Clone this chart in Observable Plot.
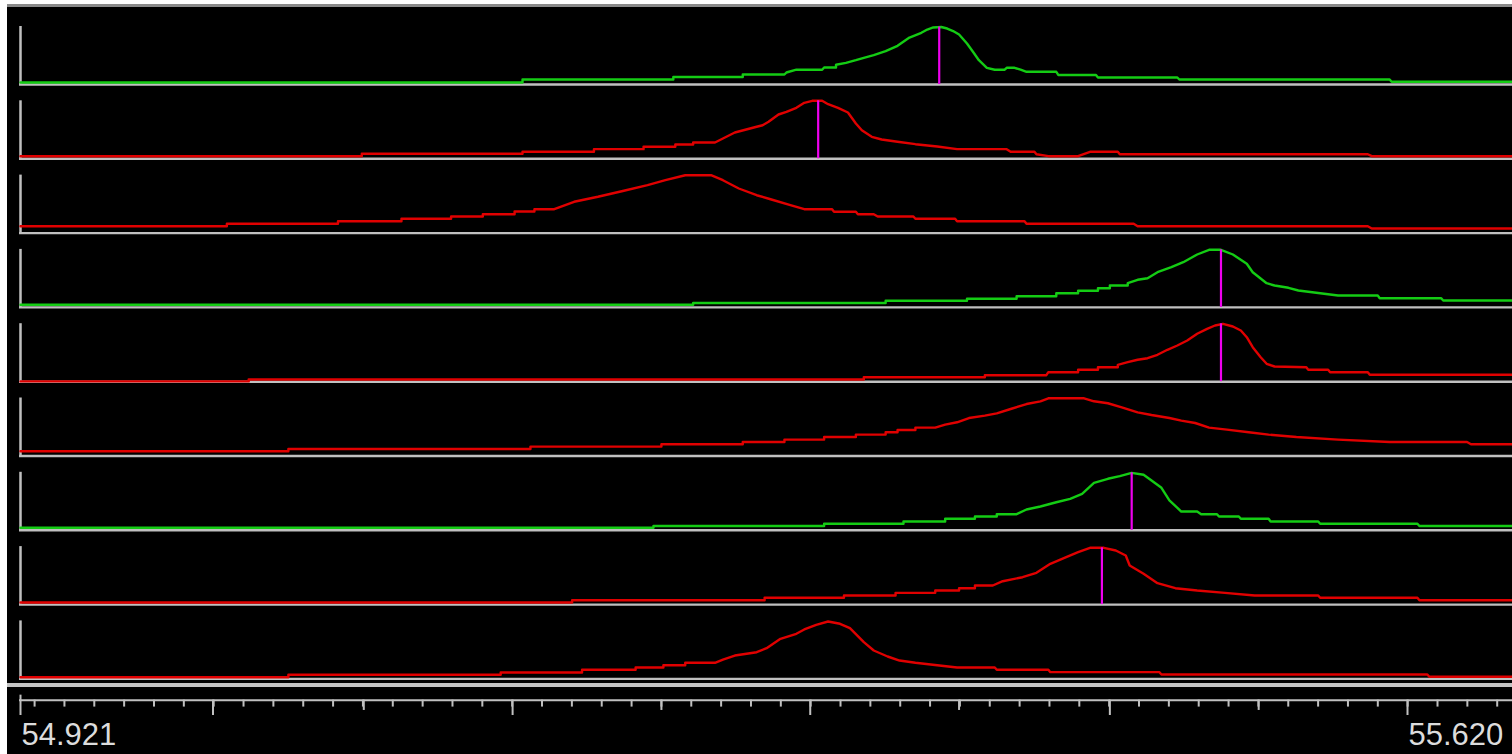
<!DOCTYPE html>
<html><head><meta charset="utf-8">
<script src="https://cdn.jsdelivr.net/npm/d3@7"></script>
<script src="https://cdn.jsdelivr.net/npm/@observablehq/plot@0.6"></script>
<style>
html,body{margin:0;padding:0;background:#fff;}
#wrap{position:relative;width:1512px;height:754px;overflow:hidden;background:#fff;}
#bg{position:absolute;left:7px;top:7px;right:0;bottom:0;background:#000;}
#topline{position:absolute;left:7px;top:4px;right:0;height:3px;background:#8a8a8a;}
#sep{position:absolute;left:7px;top:683px;right:0;height:4px;background:#c4c4c4;}
#panels{position:absolute;left:0;top:0;}
#axis{position:absolute;left:0;top:680px;}
svg{display:block;}
</style></head>
<body><div id="wrap"><div id="bg"></div><div id="topline"></div><div id="sep"></div><div id="panels"></div><div id="axis"></div></div>
<script>
// ---- data: retention time (min) vs relative intensity (%) ----
const xStart = 54.921, xEnd = 55.620;
const axisLabels = ["54.921", "55.620"];
const traceColors = ["#14cc14", "#e00000", "#e00000", "#14cc14", "#e00000", "#e00000", "#14cc14", "#e00000", "#e00000"];

const trace1 = [[54.921,3.4],[55.174,3.4],[55.174,8.6],[55.250,8.6],[55.250,12.9],[55.285,12.9],[55.285,17.2],[55.306,17.2],[55.307,20.7],[55.312,25.5],[55.325,25.5],[55.326,29.3],[55.332,29.3],[55.332,34.1],[55.337,37.4],[55.342,41.9],[55.346,46.0],[55.351,50.6],[55.357,57.4],[55.363,66.7],[55.369,81.0],[55.375,89.1],[55.378,94.8],[55.381,98.3],[55.385,99.1],[55.388,96.5],[55.391,92.2],[55.394,86.2],[55.398,70.7],[55.401,56.4],[55.404,41.9],[55.408,28.8],[55.412,25.5],[55.417,25.5],[55.418,28.8],[55.422,28.8],[55.425,25.5],[55.428,21.9],[55.443,21.9],[55.444,16.4],[55.463,16.4],[55.464,12.1],[55.504,12.1],[55.505,8.6],[55.611,8.6],[55.612,4.7],[55.673,4.7]];
const trace2 = [[54.921,4.5],[55.093,4.5],[55.093,8.6],[55.174,8.6],[55.174,12.1],[55.210,12.1],[55.210,16.6],[55.235,16.6],[55.235,20.7],[55.251,20.7],[55.251,24.7],[55.260,24.7],[55.260,28.1],[55.271,28.1],[55.275,35.0],[55.281,45.3],[55.292,55.2],[55.295,57.9],[55.298,63.8],[55.303,76.4],[55.307,81.0],[55.312,87.9],[55.316,96.5],[55.320,100],[55.325,100],[55.328,94.1],[55.333,87.9],[55.338,79.8],[55.342,60.9],[55.345,49.3],[55.350,37.9],[55.355,33.3],[55.363,29.3],[55.372,25.2],[55.383,21.2],[55.393,16.6],[55.418,16.6],[55.420,12.1],[55.432,12.1],[55.433,7.9],[55.439,4.5],[55.454,4.5],[55.460,12.1],[55.474,12.1],[55.475,7.9],[55.600,7.9],[55.602,4.5],[55.673,4.5]];
const trace3 = [[54.921,11.9],[55.025,11.9],[55.025,16.0],[55.081,16.0],[55.081,20.5],[55.113,20.5],[55.113,24.7],[55.138,24.7],[55.138,28.6],[55.154,28.6],[55.154,32.6],[55.170,32.6],[55.170,37.2],[55.180,37.2],[55.180,41.2],[55.190,41.2],[55.200,54.0],[55.212,62.6],[55.224,72.2],[55.237,82.6],[55.246,91.2],[55.256,99.8],[55.269,99.8],[55.275,91.2],[55.283,76.9],[55.292,65.3],[55.299,58.4],[55.309,48.1],[55.316,41.2],[55.330,41.2],[55.331,36.7],[55.342,36.7],[55.343,32.6],[55.351,32.6],[55.353,28.6],[55.371,28.6],[55.372,24.7],[55.392,24.7],[55.393,20.5],[55.427,20.5],[55.428,16.0],[55.482,16.0],[55.484,11.9],[55.600,11.9],[55.602,7.9],[55.673,7.9]];
const trace4 = [[54.921,4.5],[55.260,4.5],[55.260,7.6],[55.357,7.6],[55.357,11.4],[55.398,11.4],[55.398,15.0],[55.423,15.0],[55.423,19.3],[55.443,19.3],[55.443,24.5],[55.454,24.5],[55.454,28.6],[55.464,28.6],[55.464,33.1],[55.470,33.1],[55.470,37.8],[55.479,37.8],[55.479,41.7],[55.484,47.6],[55.489,50.3],[55.494,60.7],[55.501,69.3],[55.507,77.9],[55.514,91.2],[55.520,99.3],[55.526,99.3],[55.532,91.2],[55.539,75.2],[55.542,60.7],[55.549,41.7],[55.553,37.8],[55.560,33.8],[55.565,29.1],[55.576,24.5],[55.585,20.5],[55.605,20.5],[55.606,15.9],[55.637,15.9],[55.638,11.9],[55.673,11.9]];
const trace5 = [[54.921,0.5],[55.036,0.5],[55.036,3.8],[55.346,3.8],[55.346,7.8],[55.407,7.8],[55.407,11.2],[55.438,11.2],[55.439,16.4],[55.454,16.4],[55.454,20.5],[55.464,20.5],[55.464,25.0],[55.474,25.0],[55.474,29.1],[55.479,33.6],[55.484,37.8],[55.489,40.5],[55.494,46.4],[55.499,55.0],[55.504,62.4],[55.509,71.0],[55.514,82.6],[55.519,91.2],[55.523,96.9],[55.527,99.8],[55.532,95.2],[55.536,88.3],[55.539,76.7],[55.542,59.5],[55.546,42.2],[55.549,30.9],[55.553,26.2],[55.569,25.0],[55.570,20.5],[55.580,20.5],[55.581,16.4],[55.600,16.4],[55.601,11.9],[55.673,11.9]];
const trace6 = [[54.921,8.1],[55.056,8.1],[55.056,12.1],[55.178,12.1],[55.178,16.2],[55.244,16.2],[55.244,20.2],[55.285,20.2],[55.285,24.1],[55.306,24.1],[55.306,28.3],[55.326,28.3],[55.326,32.8],[55.342,32.8],[55.342,36.9],[55.357,36.9],[55.357,40.9],[55.363,40.9],[55.363,44.8],[55.372,44.8],[55.372,49.0],[55.382,49.0],[55.387,54.1],[55.393,58.1],[55.399,65.5],[55.407,69.6],[55.413,73.6],[55.420,81.0],[55.428,89.6],[55.435,94.3],[55.439,99.5],[55.457,99.5],[55.462,94.3],[55.469,90.9],[55.476,84.0],[55.484,75.3],[55.491,70.7],[55.500,65.5],[55.506,61.0],[55.513,56.9],[55.520,49.0],[55.529,45.5],[55.540,40.9],[55.550,36.9],[55.564,32.8],[55.585,28.3],[55.611,24.1],[55.650,24.1],[55.652,20.2],[55.673,20.2]];
const trace7 = [[54.921,4.3],[55.240,4.3],[55.240,7.4],[55.326,7.4],[55.326,11.2],[55.366,11.2],[55.366,15.2],[55.387,15.2],[55.387,19.8],[55.402,19.8],[55.402,23.8],[55.413,23.8],[55.413,27.8],[55.423,27.8],[55.428,35.9],[55.435,41.0],[55.443,48.4],[55.450,54.3],[55.456,62.9],[55.462,81.9],[55.469,88.8],[55.475,93.3],[55.481,99.1],[55.487,95.7],[55.491,85.9],[55.496,73.3],[55.500,51.4],[55.506,32.4],[55.514,32.4],[55.516,27.8],[55.524,27.8],[55.525,23.8],[55.535,23.8],[55.536,19.8],[55.550,19.8],[55.551,15.2],[55.575,15.2],[55.576,11.2],[55.625,11.2],[55.626,7.4],[55.673,7.4]];
const trace8 = [[54.921,3.6],[55.199,3.6],[55.199,7.6],[55.296,7.6],[55.296,11.7],[55.336,11.7],[55.336,15.7],[55.362,15.7],[55.362,20.3],[55.382,20.3],[55.382,24.3],[55.394,24.3],[55.394,28.3],[55.402,28.3],[55.402,32.9],[55.411,32.9],[55.416,40.3],[55.426,47.2],[55.433,54.8],[55.440,70.3],[55.448,81.7],[55.454,90.3],[55.460,97.9],[55.467,97.9],[55.473,93.3],[55.478,84.6],[55.480,67.4],[55.487,53.1],[55.494,36.9],[55.503,28.3],[55.514,24.3],[55.528,20.3],[55.543,15.7],[55.575,15.7],[55.576,11.7],[55.625,11.7],[55.626,7.6],[55.673,7.6]];
const trace9 = [[54.921,2.9],[55.056,2.9],[55.056,7.1],[55.163,7.1],[55.163,11.0],[55.204,11.0],[55.204,15.7],[55.231,15.7],[55.231,19.7],[55.245,19.7],[55.245,23.6],[55.256,23.6],[55.256,27.8],[55.271,27.8],[55.275,33.4],[55.281,40.3],[55.292,46.0],[55.297,52.9],[55.304,69.1],[55.312,77.8],[55.316,85.2],[55.322,93.3],[55.328,99.0],[55.334,95.0],[55.339,87.4],[55.346,63.3],[55.351,49.0],[55.358,38.6],[55.364,31.7],[55.372,27.8],[55.383,23.6],[55.393,19.7],[55.412,19.7],[55.413,15.7],[55.439,15.7],[55.440,11.6],[55.495,11.6],[55.496,7.6],[55.630,7.6],[55.631,3.6],[55.673,3.6]];

// apex markers: [panel, time, intensity]
const markers = [[1,55.384,99.1],[2,55.323,100],[4,55.526,99.3],[5,55.526,99.8],[7,55.481,99.1],[8,55.466,97.9]];

// axis ticks
const majorTicks = [55.018, 55.169, 55.319, 55.470, 55.620];
const midTicks = [55.094, 55.244, 55.394, 55.545];
const minorFirst = 54.9281, minorStep = 0.015043, minorCount = 50;

// ---- build ----
const traces = [trace1, trace2, trace3, trace4, trace5, trace6, trace7, trace8, trace9];
const panels = traces.map((_, i) => i + 1);
const rows = [];
traces.forEach((tr, i) => tr.forEach(([t, v]) => rows.push({panel: i + 1, t, v, kind: "trace", color: traceColors[i]})));
markers.forEach(([p, t, v]) => rows.push({panel: p, t, v, kind: "marker", color: "#ee00ee"}));

const GRAY = "#c0c0c0";
const xScale = {domain: [xStart, xEnd], range: [20, 1407], axis: null};

const panelsSvg = Plot.plot({
  width: 1512, height: 680,
  marginTop: 0, marginBottom: 0, marginLeft: 0, marginRight: 0,
  x: xScale,
  y: {domain: [0, 100], range: [74.3, 16.3], axis: null},
  fy: {domain: panels, range: [9.7, 678.4], padding: 0, round: false, axis: null},
  color: {type: "identity"},
  facet: {data: rows, y: "panel"},
  style: {background: "transparent", overflow: "visible"},
  marks: [
    Plot.ruleY([0], {x1: 54.9205, x2: 55.68, stroke: GRAY, strokeWidth: 2.4}),
    Plot.ruleX([xStart], {y1: 0, y2: 100, stroke: GRAY, strokeWidth: 2.5}),
    Plot.line(rows, {filter: d => d.kind === "trace", x: "t", y: "v", z: "panel", stroke: "color", strokeWidth: 2.4}),
    Plot.ruleX(rows, {filter: d => d.kind === "marker", x: "t", y1: 0, y2: "v", stroke: "color", strokeWidth: 2.2})
  ]
});
document.getElementById("panels").appendChild(panelsSvg);

const minorTicks = d3.range(minorCount).map(k => minorFirst + k * minorStep);
const axisSvg = Plot.plot({
  width: 1512, height: 74,
  marginTop: 0, marginBottom: 0, marginLeft: 0, marginRight: 0,
  x: xScale,
  y: {domain: [0, 1], range: [19.7, 35], axis: null},
  style: {background: "transparent", overflow: "visible"},
  marks: [
    Plot.ruleY([0], {x1: 54.9205, x2: 55.68, stroke: GRAY, strokeWidth: 2}),
    Plot.ruleX(minorTicks, {y1: 0, y2: 0.45, stroke: GRAY, strokeWidth: 2}),
    Plot.ruleX(midTicks, {y1: 0, y2: 0.67, stroke: GRAY, strokeWidth: 2}),
    Plot.ruleX(majorTicks, {y1: 0, y2: 1, stroke: GRAY, strokeWidth: 2}),
    Plot.ruleX([xStart], {y1: -0.33, y2: 1, stroke: GRAY, strokeWidth: 2}),
    Plot.text([xStart, xEnd], {x: d => d, y: 2.3, text: (d, i) => axisLabels[i], textAnchor: "start", dx: 1,
      fontSize: 31, fill: "#dcdcdc", fontFamily: "Liberation Sans"})
  ]
});
document.getElementById("axis").appendChild(axisSvg);
</script>
</body></html>
